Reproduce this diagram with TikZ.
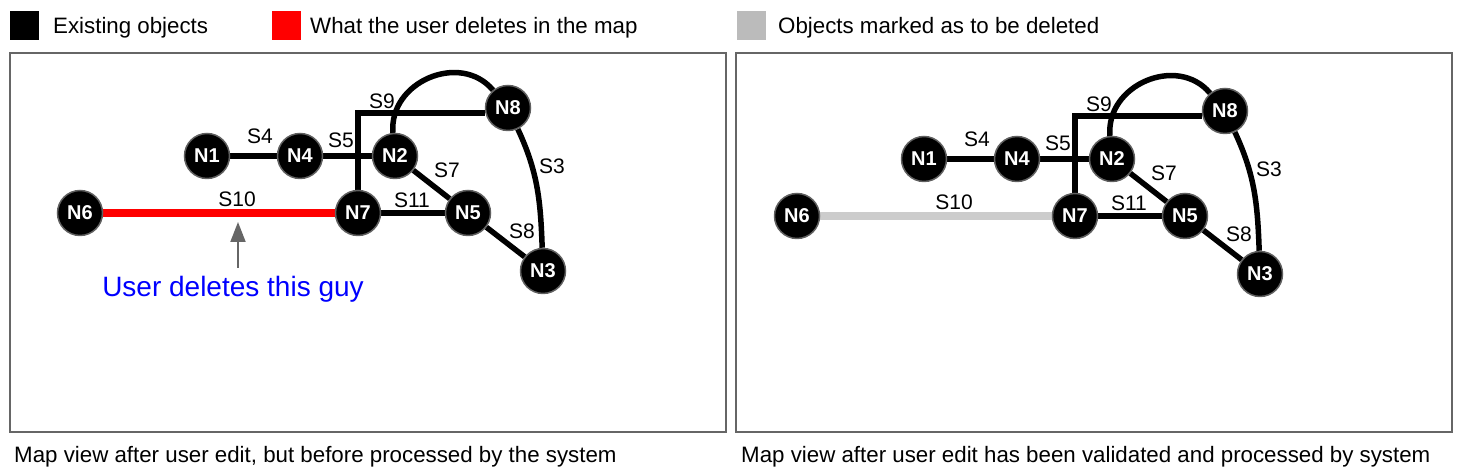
\documentclass[tikz,border=0pt]{standalone}
\usepackage{fontspec}
\setmainfont{Liberation Sans}
\usetikzlibrary{backgrounds,arrows.meta}
\definecolor{nodeborder}{HTML}{606060}
\definecolor{panelborder}{HTML}{666666}
\definecolor{delgray}{HTML}{CCCCCC}
\definecolor{leggray}{HTML}{BBBBBB}
\definecolor{arrgray}{HTML}{666666}
\definecolor{userblue}{HTML}{0000FF}
\newcommand\drawmap[2]{%
  \node[nd] (#1N1) at (207,317) {N1};
  \node[nd] (#1N4) at (300,317) {N4};
  \node[nd] (#1N2) at (395,317) {N2};
  \node[nd] (#1N8) at (508,365) {N8};
  \node[nd] (#1N7) at (358,260) {N7};
  \node[nd] (#1N5) at (468,260) {N5};
  \node[nd] (#1N6) at (80,260) {N6};
  \node[nd] (#1N3) at (543,202) {N3};
  \coordinate (#1C9) at (358,360);
  \begin{pgfonlayer}{background}
    \draw[edge] (#1N1) -- (#1N4);
    \draw[edge] (#1N4) -- (#1N2);
    \draw[edge] (#1N7.north) -- (#1C9) -- (#1C9 -| #1N8.west);
    \draw[edge] (#1N2) to[out=95,in=130,looseness=1.2] (#1N8);
    \draw[edge] (#1N2) -- (#1N5);
    \draw[edge] (#1N7) -- (#1N5);
    \draw[edge] (#1N5) -- (#1N3);
    \draw[edge] (#1N8) to[out=-65,in=92] (#1N3);
    \draw[line width=7.5pt,#2] (#1N6) -- (#1N7);
  \end{pgfonlayer}
  \node[lbl] (#1L4) at (260,337) {S4};
  \node[lbl] (#1L5) at (341,333) {S5};
  \node[lbl] (#1L9) at (382,372) {S9};
  \node[lbl] (#1L7) at (447,303) {S7};
  \node[lbl] (#1L11) at (412,273) {S11};
  \node[lbl] (#1L8) at (522,242) {S8};
  \node[lbl] (#1L3) at (552,307) {S3};
  \node[lbl] (#1L10) at (237,274) {S10};
}
\begin{document}
\begin{tikzpicture}[x=1pt,y=1pt,
  nd/.style={circle,fill=black,draw=nodeborder,line width=1.5pt,minimum size=45pt,inner sep=0pt,text=white,font=\fontsize{20}{20}\selectfont\bfseries},
  edge/.style={line width=5.5pt,black},
  lbl/.style={font=\fontsize{21}{21}\selectfont,inner sep=0pt},
  txt/.style={font=\fontsize{22.3}{22.3}\selectfont,inner sep=0pt,anchor=base west},
  legsq/.style={minimum width=29pt,minimum height=29pt,inner sep=0pt},
  panel/.style={draw=panelborder,line width=1.5pt},
  arr/.style={draw=arrgray,line width=2pt,-{Triangle[length=20pt,width=15pt]}}
]
\useasboundingbox (0,0) rectangle (1461,473);
% legend
\node[legsq,fill=black] (k1) at (24.5,447) {};
\node[txt] (t1) at (53,439) {Existing objects};
\node[legsq,fill=red] (k2) at (286,447) {};
\node[txt] (t2) at (310,439) {What the user deletes in the map};
\node[legsq,fill=leggray] (k3) at (751.5,447) {};
\node[txt] (t3) at (778,439) {Objects marked as to be deleted};
% panels
\draw[panel] (10,41) rectangle (726,420);
\draw[panel] (736,41) rectangle (1452,420);
% captions
\node[txt] (c1) at (14,10) {Map view after user edit, but before processed by the system};
\node[txt] (c2) at (741,10) {Map view after user edit has been validated and processed by system};
% left map
\drawmap{A}{red}
\coordinate (tip) at (238,251);
\node[font=\fontsize{28}{28}\selectfont,text=userblue,inner sep=0pt,anchor=base] (usr) at (233,176) {User deletes this guy};
\draw[arr] ([yshift=9pt]usr.north -| tip) -- (tip);
% right map
\begin{scope}[shift={(717,-3)}]
\drawmap{B}{delgray}
\end{scope}
\end{tikzpicture}
\end{document}
